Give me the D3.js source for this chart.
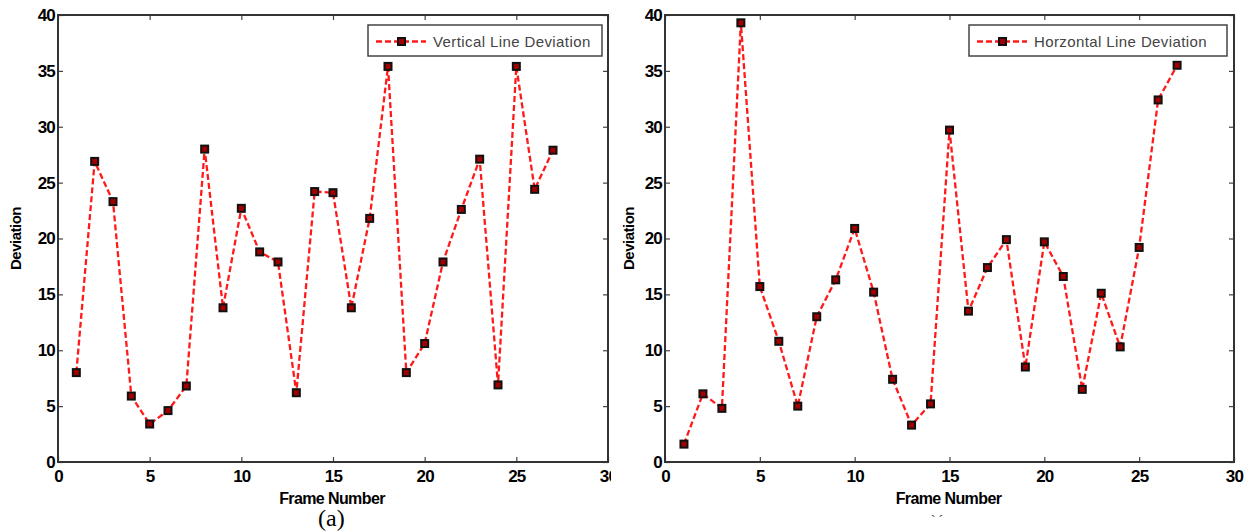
<!DOCTYPE html>
<html lang="en">
  <head>
    <meta charset="UTF-8" />
    <title>Deviation</title>
    <style>
      body { margin: 0; background: #fff; }
      svg { display: block; }
      .tick text { font-family: "Liberation Sans", Arial, sans-serif; font-weight: bold; font-size: 17px; fill: #000; letter-spacing: -0.8px; }
    </style>
  </head>
  <body>
    <div class="chartContainer"></div>
    <script src="https://d3js.org/d3.v7.min.js"></script>
    <script>
      const width = 1250;
      const height = 531;

      // 資料
      const frames = d3.range(1, 28);
      const verticalDev = [8.0, 26.9, 23.3, 5.9, 3.4, 4.6, 6.8, 28.0, 13.8, 22.7, 18.8, 17.9, 6.2, 24.2,
        24.1, 13.8, 21.8, 35.4, 8.0, 10.6, 17.9, 22.6, 27.1, 6.9, 35.4, 24.4, 27.9];
      const horizontalDev = [1.6, 6.1, 4.8, 39.3, 15.7, 10.8, 5.0, 13.0, 16.3, 20.9, 15.2, 7.4, 3.3, 5.2,
        29.7, 13.5, 17.4, 19.9, 8.5, 19.7, 16.6, 6.5, 15.1, 10.3, 19.2, 32.4, 35.5];
      const xTicks = [0, 5, 10, 15, 20, 25, 30];
      const yTicks = [0, 5, 10, 15, 20, 25, 30, 35, 40];

      const svg = d3
        .select(".chartContainer")
        .append("svg")
        .attr("width", width)
        .attr("height", height);

      function drawPanel(opt) {
        const g = svg.append("g");
        const x = d3.scaleLinear().domain([0, 30]).range([opt.left, opt.right]);
        const y = d3.scaleLinear().domain([0, 40]).range([opt.bottom, opt.top]);

        // 座標軸（刻度朝內）
        g.append("g")
          .attr("transform", `translate(0,${opt.bottom})`)
          .call(d3.axisBottom(x).tickValues(xTicks).tickSizeInner(-5).tickSizeOuter(0).tickPadding(8));
        g.append("g")
          .attr("transform", `translate(0,${opt.top})`)
          .call(d3.axisTop(x).tickValues(xTicks).tickSizeInner(-5).tickSizeOuter(0).tickFormat(""));
        g.append("g")
          .attr("transform", `translate(${opt.left},0)`)
          .call(d3.axisLeft(y).tickValues(yTicks).tickSizeInner(-5).tickSizeOuter(0).tickPadding(3));
        g.append("g")
          .attr("transform", `translate(${opt.right},0)`)
          .call(d3.axisRight(y).tickValues(yTicks).tickSizeInner(-5).tickSizeOuter(0).tickFormat(""));
        g.selectAll(".domain").remove();
        g.selectAll(".tick line").attr("stroke", "#444").attr("stroke-width", 1.2);

        g.append("rect")
          .attr("x", opt.left)
          .attr("y", opt.top)
          .attr("width", opt.right - opt.left)
          .attr("height", opt.bottom - opt.top)
          .attr("fill", "none")
          .attr("stroke", "#333")
          .attr("stroke-width", 2);

        // 折線
        const line = d3.line().x((d, i) => x(frames[i])).y((d) => y(d));
        g.append("path")
          .datum(opt.values)
          .attr("d", line)
          .attr("fill", "none")
          .attr("stroke", "#ff1a1a")
          .attr("stroke-width", 2.3)
          .attr("stroke-dasharray", "6,3");

        g.selectAll(".pt")
          .data(opt.values)
          .join("rect")
          .attr("class", "pt")
          .attr("x", (d, i) => x(frames[i]) - 3.5)
          .attr("y", (d) => y(d) - 3.5)
          .attr("width", 7)
          .attr("height", 7)
          .attr("fill", "#a00000")
          .attr("stroke", "#111")
          .attr("stroke-width", 2);

        // 圖例
        const lg = g.append("g");
        lg.append("rect")
          .attr("x", opt.legend.x)
          .attr("y", 25)
          .attr("width", opt.legend.w)
          .attr("height", 31)
          .attr("fill", "#fff")
          .attr("stroke", "#444")
          .attr("stroke-width", 1.5);
        lg.append("line")
          .attr("x1", opt.legend.x + 8)
          .attr("x2", opt.legend.x + 58)
          .attr("y1", 41.5)
          .attr("y2", 41.5)
          .attr("stroke", "#ff1a1a")
          .attr("stroke-width", 2.3)
          .attr("stroke-dasharray", "6,3");
        lg.append("rect")
          .attr("x", opt.legend.x + 30)
          .attr("y", 38)
          .attr("width", 7)
          .attr("height", 7)
          .attr("fill", "#a00000")
          .attr("stroke", "#111")
          .attr("stroke-width", 2);
        lg.append("text")
          .attr("x", opt.legend.x + 65)
          .attr("y", 47)
          .attr("font-family", "Liberation Sans, Arial, sans-serif")
          .attr("font-size", 15)
          .attr("letter-spacing", 0.4)
          .attr("fill", "#444")
          .text(opt.legend.label);

        // 軸標題
        g.append("text")
          .attr("x", (opt.left + opt.right) / 2 - 1)
          .attr("y", 504)
          .attr("text-anchor", "middle")
          .attr("font-family", "Liberation Sans, Arial, sans-serif")
          .attr("font-weight", "bold")
          .attr("font-size", 16)
          .attr("letter-spacing", -0.6)
          .attr("fill", "#000")
          .text("Frame Number");
        g.append("text")
          .attr("transform", `translate(${opt.ylabelX},${(opt.top + opt.bottom) / 2}) rotate(-90)`)
          .attr("text-anchor", "middle")
          .attr("font-family", "Liberation Sans, Arial, sans-serif")
          .attr("font-weight", "bold")
          .attr("font-size", 15)
          .attr("letter-spacing", -0.5)
          .attr("fill", "#000")
          .text("Deviation");
      }

      drawPanel({
        left: 58, right: 608, top: 15, bottom: 462, ylabelX: 21,
        values: verticalDev,
        legend: { x: 368, w: 234, label: "Vertical Line Deviation" },
      });

      // 右圖底色蓋住左圖的 "30"
      svg.append("rect").attr("x", 611).attr("y", 0).attr("width", 639).attr("height", height).attr("fill", "#fff");

      drawPanel({
        left: 665, right: 1234, top: 15, bottom: 462, ylabelX: 634,
        values: horizontalDev,
        legend: { x: 969, w: 258, label: "Horzontal Line Deviation" },
      });

      // 子圖標示
      svg.append("text")
        .attr("x", 318)
        .attr("y", 526)
        .attr("font-family", "Liberation Serif, Times New Roman, serif")
        .attr("font-size", 24)
        .attr("fill", "#000")
        .text("(a)");
      svg.append("text")
        .attr("x", 931)
        .attr("y", 524)
        .attr("font-family", "Liberation Serif, Times New Roman, serif")
        .attr("font-size", 13)
        .attr("fill", "#333")
        .text("` ´");
    </script>
  </body>
</html>
